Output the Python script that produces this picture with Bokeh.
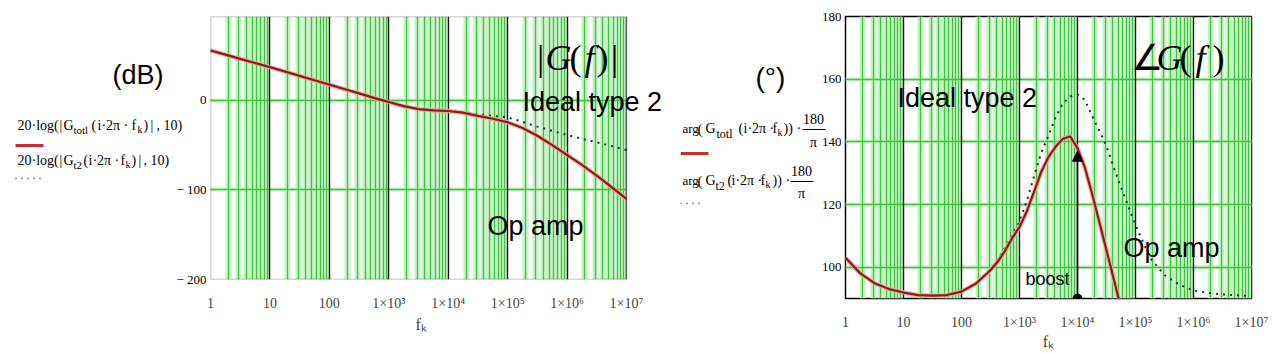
from bokeh.plotting import figure
from bokeh.models import (Range1d, FixedTicker, Grid, Label, Arrow, NormalHead,
                          BoxAnnotation, Title)
from bokeh.layouts import row
from bokeh.embed import file_html
from bokeh.resources import INLINE

# ---------------- data ----------------
MAG_F = [1, 1.78, 3.16, 5.62, 10, 17.8, 31.6, 56.2, 100, 178, 316, 562,
         1e3, 1.78e3, 3.16e3, 5.62e3, 1e4, 1.78e4, 3.16e4, 5.62e4,
         1e5, 1.78e5, 3.16e5, 5.62e5, 1e6, 1.78e6, 3.16e6, 5.62e6, 1e7]
MAG_TOTL = [55.6, 51.0, 46.3, 41.7, 37.1, 32.2, 27.3, 22.4, 17.5, 12.6, 7.8, 2.8,
            -1.9, -6.5, -9.8, -11.1, -11.9, -13.8, -17.3, -20.5,
            -24.5, -30.8, -39.5, -50.0, -61.0, -72.0, -84.0, -97.0, -110.0]
MAG_T2 = [55.6, 51.0, 46.3, 41.7, 37.1, 32.2, 27.3, 22.4, 17.5, 12.6, 7.8, 2.8,
          -1.9, -6.5, -9.8, -11.0, -11.6, -13.0, -15.6, -17.3,
          -19.0, -24.0, -29.3, -34.0, -38.7, -43.0, -46.8, -51.0, -55.5]

PH_F = [1, 1.78, 3.16, 5.62, 10, 17.8, 31.6, 56.2, 100, 178, 316, 422, 562, 750,
        1000, 1330, 1780, 2370, 3160, 4220, 5620, 7500, 1e4, 1.33e4, 1.78e4,
        2.37e4, 3.16e4, 4.22e4, 5.62e4, 7.5e4, 1e5, 1.78e5, 3.16e5, 5.62e5,
        1e6, 1.78e6, 3.16e6, 5.62e6, 1e7]
PH_TOTL = [103.0, 98.1, 94.9, 93.0, 91.9, 91.1, 90.9, 91.1, 92.2, 94.8, 99.0, 101.8,
           105.2, 109.3, 112.8, 117.7, 124.0, 130.4, 135.2, 138.5, 141.0, 141.7,
           138.0, 132.0, 123.5, 114.5, 105.4, 96.2, 87.0, 78.0, 69.0]
PH_T2 = [103.0, 98.1, 94.9, 93.0, 91.9, 91.1, 90.9, 91.1, 92.2, 94.9, 99.3, 102.4,
         106.2, 110.3, 114.5, 121.0, 129.0, 136.5, 142.0, 148.0, 152.3, 154.5,
         155.1, 153.5, 148.3, 143.6, 138.6, 131.8, 125.5, 119.5, 113.5, 103.0,
         97.5, 94.5, 92.5, 91.8, 91.3, 91.0, 90.8]

DECADES = [1, 10, 100, 1000, 10000, 100000, 1000000, 10000000]
DECADE_LABELS = ["1", "10", "100", "1×10³", "1×10⁴", "1×10⁵", "1×10⁶", "1×10⁷"]
MINORS = [m * d for d in DECADES[:-1] for m in range(2, 10)]
MAG_TICKS = [-200, -100, 0]
MAG_LABELS = ["− 200", "− 100", "0"]
PH_TICKS = [100, 120, 140, 160, 180]
PH_LABELS = ["100", "120", "140", "160", "180"]
BOOST_F = 1e4
BOOST_TOP = 137.0

SERIF = "Liberation Serif"
SANS = "Liberation Sans"
GREEN = "#3cc43c"
GLOW = "#c9f2c9"
RED = "#8e1b1b"
HALO = "#f0a48c"
DOT = "#1c2e4a"
H = 353

# page-pixel geometry of the two plot frames
LYR = (-200, 93.6)
RYR = (90, 180)
L_LEFT, L_W, TOP, L_H = 210, 416, 16, 263
R_LEFT, R_W, R_H = 845, 406, 282


def ly(py):
    return LYR[1] - (py - TOP) / L_H * (LYR[1] - LYR[0])


def lx(px):
    return 10 ** ((px - L_LEFT) / L_W * 7)


def ry(py):
    return RYR[1] - (py - TOP) / R_H * (RYR[1] - RYR[0])


def rx(px):
    return 10 ** ((px - R_LEFT) / R_W * 7)


def blank_fig(x0, x1, yconv):
    p = figure(width=x1 - x0, height=H, x_range=Range1d(x0, x1),
               y_range=Range1d(yconv(H), yconv(0)), x_axis_location=None,
               y_axis_location=None, output_backend="svg", toolbar_location=None)
    p.frame_align = False
    p.min_border = 0
    p.min_border_left = 0
    p.min_border_right = 0
    p.min_border_top = 0
    p.min_border_bottom = 0
    p.outline_line_color = None
    p.background_fill_color = "white"
    p.border_fill_color = "white"
    p.grid.visible = False
    return p


def plot_fig(width, xmax, yr, left, right, bottom):
    p = figure(width=width, height=H, x_axis_type="log",
               x_range=Range1d(1, xmax), y_range=Range1d(*yr), y_axis_location=None,
               output_backend="svg", toolbar_location=None)
    p.frame_align = False
    p.min_border_left = left
    p.min_border_right = right
    p.min_border_top = TOP
    p.min_border_bottom = bottom
    p.background_fill_color = "white"
    p.border_fill_color = "white"
    p.grid.visible = False
    xa = p.xaxis[0]
    xa.ticker = FixedTicker(ticks=DECADES, minor_ticks=[])
    xa.major_label_overrides = dict(zip(DECADES, DECADE_LABELS))
    xa.axis_line_color = None
    xa.major_tick_line_color = None
    xa.minor_tick_line_color = None
    xa.major_label_text_font = SERIF
    xa.major_label_text_font_size = "14px"
    xa.major_label_standoff = 10
    xa.axis_label_text_font = SERIF
    xa.axis_label_text_font_style = "normal"
    xa.axis_label_text_font_size = "16px"
    xa.axis_label_standoff = 0
    return p


def add_grids(p, yticks):
    p.add_layout(Grid(dimension=0, ticker=FixedTicker(ticks=MINORS),
                      grid_line_color=GLOW, grid_line_width=6))
    p.add_layout(Grid(dimension=1, ticker=FixedTicker(ticks=yticks),
                      grid_line_color=GLOW, grid_line_width=4))
    p.add_layout(Grid(dimension=0, ticker=FixedTicker(ticks=MINORS),
                      grid_line_color=GREEN, grid_line_width=1.3))
    p.add_layout(Grid(dimension=1, ticker=FixedTicker(ticks=yticks),
                      grid_line_color=GREEN, grid_line_width=1.4))
    p.add_layout(Grid(dimension=0, ticker=FixedTicker(ticks=DECADES),
                      grid_line_color="#151515", grid_line_width=1.4))


def lab(p, x, y, s, size, font=SERIF, style="normal", align="left", color="black"):
    p.add_layout(Label(x=x, y=y, text=s, text_font=font, text_font_size=f"{size}px",
                       text_font_style=style, text_align=align, text_baseline="middle",
                       text_color=color))


def seg(p, x0, y0, x1, y1, color, width, dash="solid"):
    p.add_layout(Arrow(start=None, end=None, x_start=x0, y_start=y0, x_end=x1, y_end=y1,
                       line_color=color, line_width=width, line_dash=dash))


# =============== left half ===============
# legend / y tick label area (page x 0..206)
la = blank_fig(0, 206, ly)
for t, s in zip(MAG_TICKS, MAG_LABELS):
    lab(la, 206, t, s, 13, align="right")
lab(la, 112, ly(74), "(dB)", 27, font=SANS)
for s, x in [("20·log(", 17), ("|", 59), ("G", 63), ("(", 91), ("i·2π ·", 97),
             ("f", 131), (")", 143), ("|", 150), (", 10)", 156)]:
    lab(la, x, ly(125), s, 14)
lab(la, 73, ly(129), "totl", 11)
lab(la, 137, ly(129), "k", 10)
seg(la, 15, ly(145), 43, ly(145), "#c23030", 3)
for s, x in [("20·log(", 17), ("|", 59), ("G", 63), ("(", 83), ("i·2π ·", 88),
             ("f", 120), (")", 131), ("|", 138), (", 10)", 143)]:
    lab(la, x, ly(160), s, 14)
lab(la, 73, ly(164), "t2", 11)
lab(la, 125, ly(164), "k", 10)
seg(la, 15, ly(178), 40, ly(178), DOT, 1.5, "1 5")

# magnitude plot (page x 206..680, frame 210..680, data up to 1e7 at 626)
lp = plot_fig(474, lx(680), LYR, 4, 0, 74)
lp.outline_line_color = None
add_grids(lp, MAG_TICKS)
lp.add_layout(BoxAnnotation(left=DECADES[-1], right=lx(720), bottom=-400, top=200,
                            fill_color="white", fill_alpha=1, line_alpha=0, level="underlay"))
lp.add_layout(BoxAnnotation(left=DECADES[0], right=DECADES[-1], bottom=LYR[0], top=LYR[1],
                            fill_alpha=0, line_color="black", line_width=1.5))
lp.add_layout(Title(text="fₖ", align="left", offset=205, text_font=SERIF,
                    text_font_size="16px", text_font_style="normal", standoff=0), "below")
lp.line(MAG_F, MAG_T2, line_color=DOT, line_width=2, line_dash="2 5")
lp.line(MAG_F, MAG_TOTL, line_color=HALO, line_width=4.5, line_alpha=0.8)
lp.line(MAG_F, MAG_TOTL, line_color=RED, line_width=2.2)
for s, x, st in [("|", 540, "normal"), ("G", 558, "italic"), ("(", 575, "normal"),
                 ("f", 589, "italic"), (")", 602, "normal"), ("|", 614, "normal")]:
    lab(lp, lx(x), ly(57), s, 36, style=st, align="center")
lab(lp, lx(522), ly(101), "Ideal type 2", 27, font=SANS)
lab(lp, lx(487), ly(225), "Op amp", 27, font=SANS)

# =============== right half ===============
ra = blank_fig(680, 841, ry)
for t, s in zip(PH_TICKS, PH_LABELS):
    lab(ra, 841, t, s, 13, align="right")
lab(ra, 755, ry(77), "(°)", 28, font=SANS)
for s, x, sz in [("arg", 682, 13), ("(", 697, 15), ("G", 705, 14), ("(", 738, 14),
                 ("i·2π ·", 743, 14), ("f", 772, 14), ("))", 783, 14), ("·", 796, 14)]:
    lab(ra, x, ry(128), s, sz)
lab(ra, 716, ry(133), "totl", 12)
lab(ra, 777, ry(132), "k", 10)
lab(ra, 813, ry(118), "180", 14, align="center")
lab(ra, 813, ry(142), "π", 14, align="center")
seg(ra, 802, ry(129), 825, ry(129), "black", 1)
seg(ra, 680, ry(153), 708, ry(153), "#c23030", 3)
for s, x, sz in [("arg", 682, 13), ("(", 697, 15), ("G", 705, 14), ("(", 727, 14),
                 ("i·2π ·", 731, 14), ("f", 760, 14), ("))", 772, 14), ("·", 785, 14)]:
    lab(ra, x, ry(180), s, sz)
lab(ra, 715, ry(185), "t2", 12)
lab(ra, 765, ry(184), "k", 10)
lab(ra, 801, ry(170), "180", 14, align="center")
lab(ra, 801, ry(193), "π", 14, align="center")
seg(ra, 790, ry(181), 813, ry(181), "black", 1)
seg(ra, 680, ry(203), 702, ry(203), DOT, 1.5, "1 5")

rp = plot_fig(439, DECADES[-1], RYR, 4, 29, 55)
rp.xaxis[0].axis_label = "fₖ"
rp.outline_line_color = "black"
rp.outline_line_width = 1.5
add_grids(rp, PH_TICKS)
rp.line(PH_F, PH_T2, line_color=DOT, line_width=2, line_dash="2 5")
rp.line(PH_F[:len(PH_TOTL)], PH_TOTL, line_color=HALO, line_width=4.5, line_alpha=0.8)
rp.line(PH_F[:len(PH_TOTL)], PH_TOTL, line_color=RED, line_width=2.2)
rp.add_layout(Arrow(end=NormalHead(size=10, fill_color="black", line_color="black"),
                    x_start=BOOST_F, y_start=RYR[0], x_end=BOOST_F, y_end=BOOST_TOP,
                    line_color="black", line_width=1.5))
rp.scatter([BOOST_F], [RYR[0]], size=9, color="black")
for s, x, st in [("∠", 1146, "normal"), ("G", 1169, "italic"), ("(", 1185, "normal"),
                 ("f", 1200, "italic"), (")", 1218, "normal")]:
    lab(rp, rx(x), ry(57), s, 36, style=st, align="center")
lab(rp, rx(897), ry(97), "Ideal type 2", 27, font=SANS)
lab(rp, rx(1123), ry(247), "Op amp", 27, font=SANS)
lab(rp, rx(1025), ry(278), "boost", 18, font=SANS)

layout = row(la, lp, ra, rp)
open("out.html", "w").write(file_html(layout, INLINE))
